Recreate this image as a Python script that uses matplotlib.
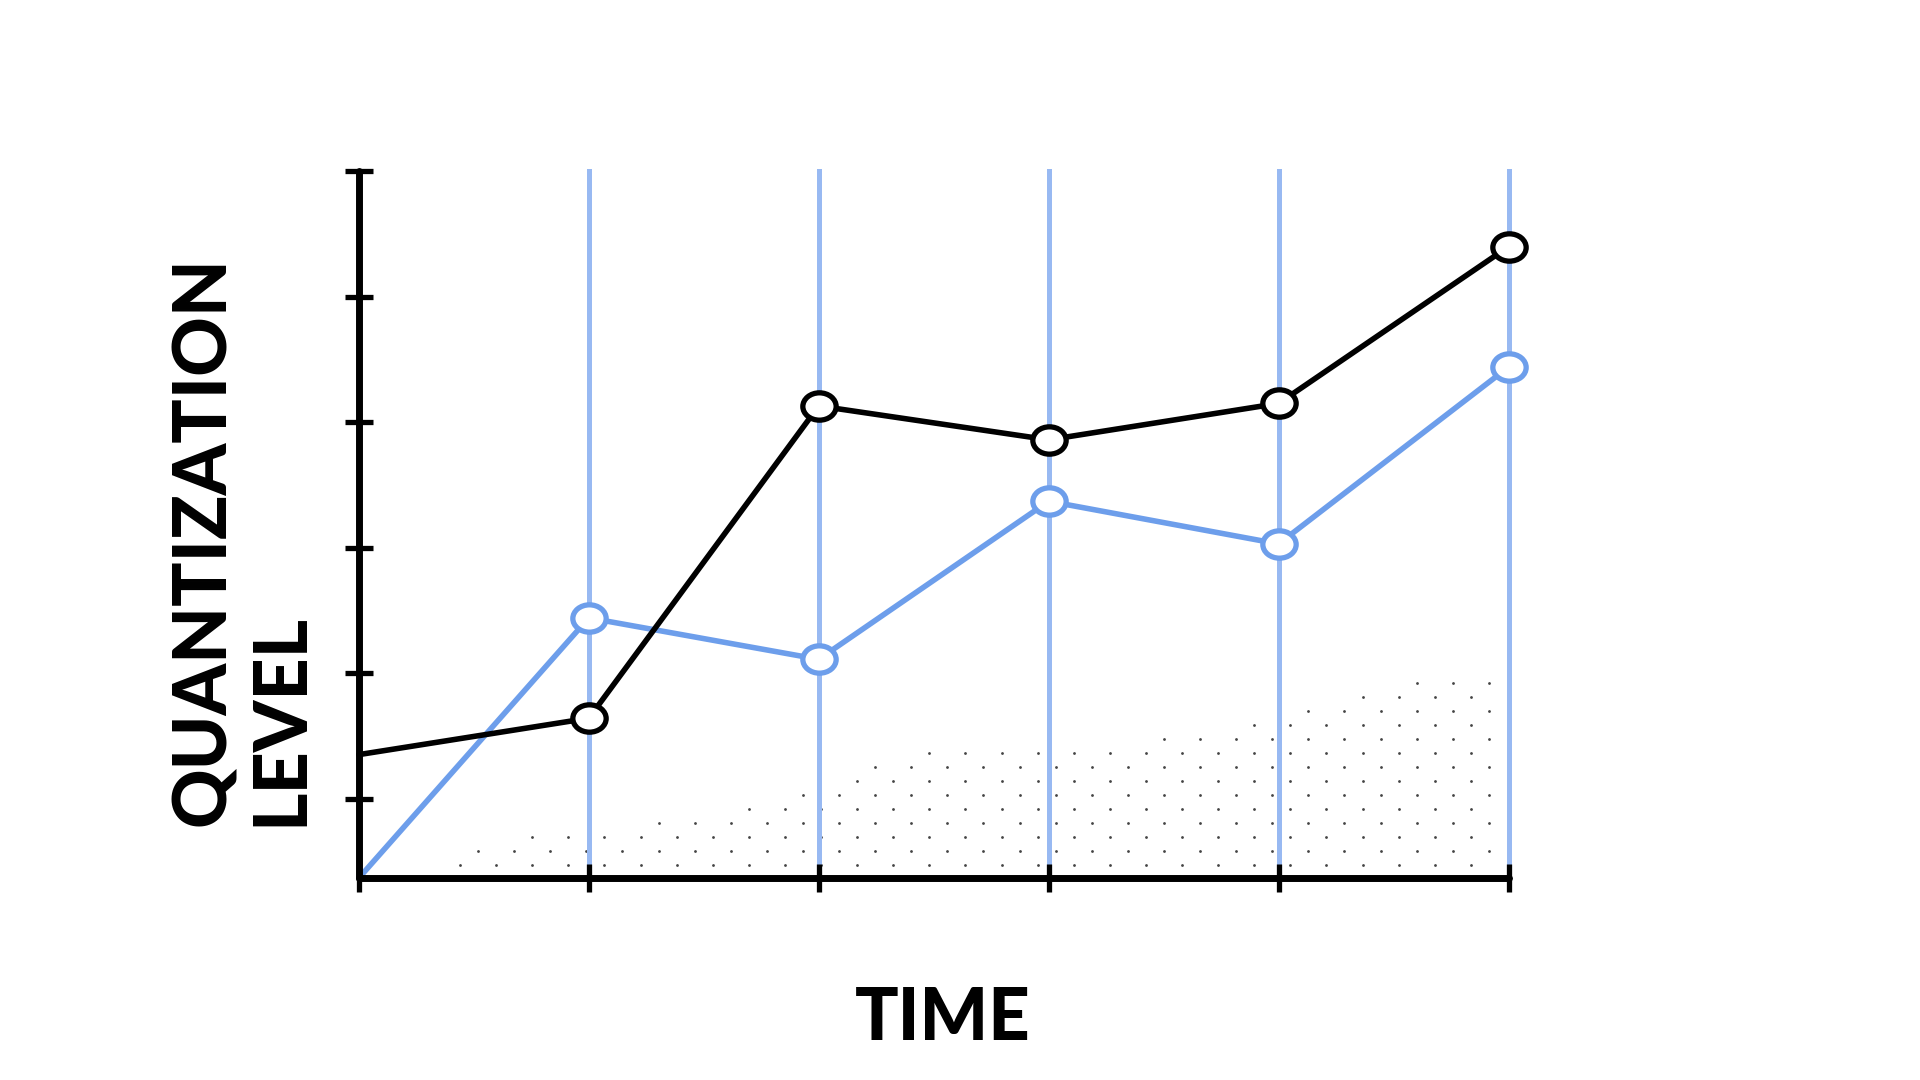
import numpy as np
import matplotlib.pyplot as plt
from matplotlib.path import Path
from matplotlib.transforms import Affine2D

# Data
time = [0, 1, 2, 3, 4, 5]
black_level = [1.35, 1.64, 4.13, 3.86, 4.15, 5.40]
blue_level = [0.366, 2.44, 2.11, 3.37, 3.03, 4.44]
y_ticks = [1, 2, 3, 4, 5, 6]

# decorative stipple region (top edge along x)
stipple_x = [0.44, 0.73, 1.26, 2.0, 2.11, 2.49, 3.76, 3.87, 4.30, 4.62, 4.95]
stipple_top = [0.56, 0.73, 0.82, 1.07, 1.26, 1.39, 1.51, 1.60, 1.80, 1.95, 1.95]

black = '#000000'
blue = '#6d9eeb'
grid_blue = '#98b9f2'

fig = plt.figure(figsize=(19.2, 10.8), dpi=100)
ax = fig.add_axes([0.1869, 0.187, 0.5988, 0.6543])

# vertical grid lines
for t in time[1:]:
    ax.axvline(t, color=grid_blue, lw=3.6, zorder=1, clip_on=False)

# stipple dots: staggered rows
dx, dy = 0.157, 0.1115
rows = np.arange(0.47, 2.0, dy)
px, py = [], []
for i, ry in enumerate(rows):
    xs = np.arange(0.44 + (i % 2) * dx / 2, 4.96, dx)
    xs = xs[ry <= np.interp(xs, stipple_x, stipple_top)]
    px.extend(xs)
    py.extend([ry] * len(xs))
ax.scatter(px, py, s=4, color='#444444', linewidths=0, zorder=0.5)

# slightly flattened circle marker
ell = Affine2D().scale(1.0, 0.82).transform_path(Path.unit_circle())

ax.plot(time, blue_level, color=blue, lw=4, zorder=3, solid_capstyle='round', clip_on=False)
ax.plot(time[1:], blue_level[1:], ls='none', marker=ell, ms=24, mfc='white',
        mec=blue, mew=3.8, zorder=3, clip_on=False)
ax.plot(time, black_level, color=black, lw=4, zorder=4, solid_capstyle='round', clip_on=False)
ax.plot(time[1:], black_level[1:], ls='none', marker=ell, ms=24, mfc='white',
        mec=black, mew=3.8, zorder=4, clip_on=False)

ax.set_xlim(0, 5)
ax.set_ylim(0.366, 6)
ax.set_xticks(time)
ax.set_yticks(y_ticks)
ax.set_xticklabels([])
ax.set_yticklabels([])
ax.tick_params(direction='inout', length=20, width=3.8, color=black)

for side in ['top', 'right']:
    ax.spines[side].set_visible(False)
for side in ['left', 'bottom']:
    ax.spines[side].set_linewidth(5)
    ax.spines[side].set_capstyle('round')
    ax.spines[side].set_zorder(5)

fig.text(0.491, 0.056, 'TIME', ha='center', va='center', fontsize=52,
         family='Lato', fontweight='black')
fig.text(0.126, 0.235, 'QUANTIZATION\nLEVEL', rotation=90, ha='center', va='bottom',
         multialignment='left', fontsize=53, family='Lato', fontweight='black',
         linespacing=1.15)

fig.savefig('out.png', dpi=100)
